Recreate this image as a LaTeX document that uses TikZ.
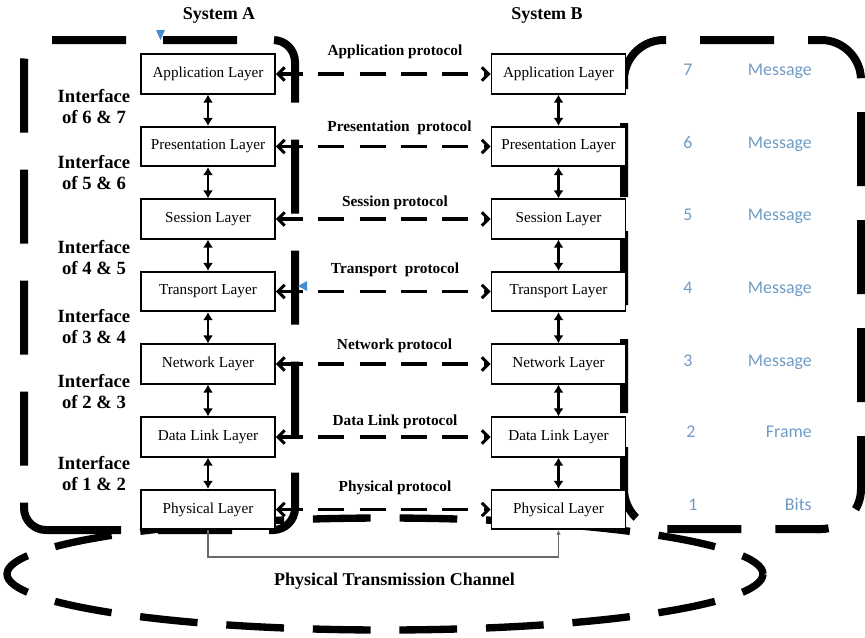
\documentclass[tikz,border=0pt]{standalone}
\usepackage{fontspec}
\setmainfont{Liberation Serif}
\newfontfamily\calibfont{Carlito}
\usetikzlibrary{arrows.meta}
\definecolor{pdulabel}{RGB}{112,155,196}
\definecolor{marker}{RGB}{70,140,210}
\definecolor{chanline}{RGB}{105,105,105}

\begin{document}
\begin{tikzpicture}[x=0.75pt,y=-0.75pt,
  layer/.style={draw, line width=1.3pt, fill=white, minimum width=100.5pt,
    minimum height=29.5pt, inner sep=0pt, font=\fontsize{11.4}{13}\selectfont},
  iface/.style={{Latex[length=6pt,width=7.5pt]}-{Latex[length=6pt,width=7.5pt]},
    line width=1.7pt},
  proto/.style={{Straight Barb[length=5pt,width=10pt]}-{Straight Barb[length=5pt,width=10pt]},
    line width=2.3pt, dash pattern=on 19.5pt off 11.6pt, dash phase=2.25pt},
  protolbl/.style={font=\bfseries\fontsize{11.5}{13}\selectfont},
  ifacelbl/.style={font=\bfseries\fontsize{14}{15.75}\selectfont, align=center},
  systitle/.style={font=\bfseries\fontsize{13.5}{15}\selectfont},
  pdu/.style={text=pdulabel, font=\calibfont\fontsize{13.4}{15}\selectfont, inner sep=0pt},
  borderA/.style={line width=6pt, rounded corners=16.5pt, dash pattern=on 55.5pt off 27.75pt},
  borderB/.style={line width=6pt, rounded corners=30pt, dash pattern=on 55.5pt off 25.5pt},
  channel/.style={line width=5.5pt, dash pattern=on 43.3pt off 21.65pt, dash phase=21.65pt},
  chanwire/.style={draw=chanline, line width=0.9pt},
  tri/.style={fill=marker}
]
\useasboundingbox (0,0) rectangle (865,637);

% physical transmission channel
\draw[channel] (385,574) ellipse [x radius=378, y radius=56];

% system A enclosure
\draw[borderA] (52,40) -- (295,40) -- (295,530) -- (80,530);
\draw[borderA, dash phase=55.5pt] (52,40) -- (24,40) -- (24,530) -- (80,530);

% system B enclosure
\draw[borderB] (700,40) -- (861,40) -- (861,529) -- (815,529);
\draw[borderB, dash phase=55.5pt] (700,40) -- (624,40) -- (624,529) -- (821,529);

% layer stacks
\foreach \nm/\lay/\y in {app/Application/74, pre/Presentation/146.5, ses/Session/219,
    tra/Transport/291.5, net/Network/364, dat/Data Link/437, phy/Physical/509.5} {
  \node[layer] (A\nm) at (208,\y) {\lay\ Layer};
  \node[layer] (B\nm) at (558.5,\y) {\lay\ Layer};
  \draw[proto] (A\nm.east) -- (B\nm.west);
}

% interfaces between adjacent layers
\foreach \up/\dn in {app/pre, pre/ses, ses/tra, tra/net, net/dat, dat/phy} {
  \draw[iface] (A\up.south) -- (A\dn.north);
  \draw[iface] (B\up.south) -- (B\dn.north);
}

% physical link between the two stacks
\coordinate (wire) at (558.5,557);
\draw[chanwire, -{Latex[length=3.5pt,width=3.5pt]}] (Aphy.south) |- (wire) -- (Bphy.south);

% peer protocols
\node[protolbl] (Lapp) at (395,52) {Application protocol};
\node[protolbl] (Lpre) at (399.5,128) {Presentation\ \ protocol};
\node[protolbl] (Lses) at (395,203) {Session protocol};
\node[protolbl] (Ltra) at (395,270) {Transport\ \ protocol};
\node[protolbl] (Lnet) at (394.5,346) {Network protocol};
\node[protolbl] (Ldat) at (395,422) {Data Link protocol};
\node[protolbl] (Lphy) at (395,488) {Physical protocol};

% interface labels
\node[ifacelbl] (I67) at (94,106.5) {Interface\\of 6 \& 7};
\node[ifacelbl] (I56) at (94,173) {Interface\\of 5 \& 6};
\node[ifacelbl] (I45) at (94,257.5) {Interface\\of 4 \& 5};
\node[ifacelbl] (I34) at (94,326.5) {Interface\\of 3 \& 4};
\node[ifacelbl] (I23) at (94,391.5) {Interface\\of 2 \& 3};
\node[ifacelbl] (I12) at (94,474) {Interface\\of 1 \& 2};

% titles
\node[systitle] (sysA) at (219,15) {System A};
\node[systitle] (sysB) at (547,15) {System B};
\node[systitle] (chan) at (394.5,581) {Physical Transmission Channel};

% layer numbers and data units
\foreach \k/\w/\y/\nx in {7/Message/70/688, 6/Message/143/688, 5/Message/215/688,
    4/Message/288/688, 3/Message/361/688, 2/Frame/432/691, 1/Bits/505/693} {
  \node[pdu, anchor=base] (num\k) at (\nx,\y+5.6) {\k};
  \node[pdu, anchor=base east] (pdu\k) at (812,\y+5.6) {\w};
}

% small markers
\fill[tri] (156,30) -- (165,30) -- (160.5,40) -- cycle;
\fill[tri] (307,281) -- (307,291) -- (298,286) -- cycle;
\end{tikzpicture}
\end{document}
